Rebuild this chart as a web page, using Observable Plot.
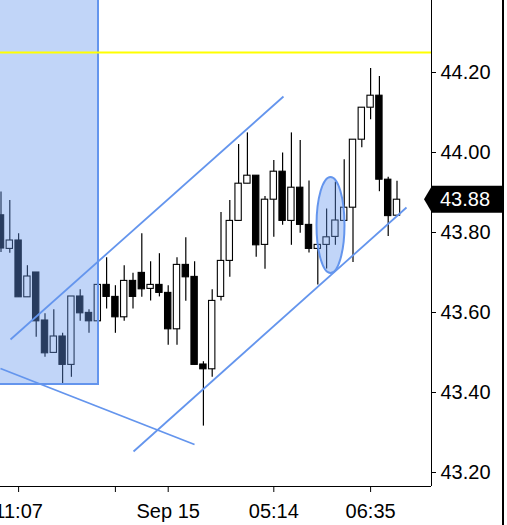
<!DOCTYPE html>
<html><head><meta charset="utf-8">
<script src="https://cdn.jsdelivr.net/npm/d3@7"></script>
<script src="https://cdn.jsdelivr.net/npm/@observablehq/plot@0.6"></script>
<style>
html,body{margin:0;padding:0;background:#fff;}
#wrap{position:relative;width:507px;height:525px;overflow:hidden;}
#wrap svg{position:absolute;left:0;top:0;}
#edge{position:absolute;left:502px;top:0;width:2px;height:525px;background:#000;z-index:2;}
</style></head><body><div id="wrap"><div id="edge"></div></div>
<script>
// ---- data ----
const opens  = [43.843,43.759,43.780,43.638,43.700,43.580,43.499,43.540,43.469,43.640,43.599,43.578,43.669,43.639,43.588,43.679,43.699,43.659,43.669,43.649,43.558,43.719,43.689,43.470,43.458,43.639,43.729,43.829,43.922,43.942,43.769,43.882,43.952,43.829,43.912,43.819,43.759,43.769,43.789,43.829,43.862,44.032,44.112,44.142,43.932,43.842];
const highs  = [43.901,43.880,43.797,43.717,43.700,43.597,43.607,43.548,43.640,43.657,43.607,43.669,43.737,43.667,43.717,43.698,43.797,43.727,43.747,43.667,43.737,43.787,43.727,43.477,43.657,43.850,43.880,44.020,44.049,43.942,43.890,43.980,43.999,44.049,44.030,43.929,43.769,43.859,43.926,43.982,44.032,44.112,44.210,44.190,43.938,43.928];
const lows   = [43.750,43.748,43.638,43.638,43.538,43.488,43.499,43.420,43.438,43.578,43.548,43.578,43.609,43.548,43.578,43.609,43.638,43.629,43.639,43.518,43.518,43.628,43.469,43.316,43.438,43.629,43.688,43.829,43.922,43.738,43.708,43.788,43.818,43.768,43.798,43.749,43.669,43.709,43.768,43.829,43.725,44.012,44.082,43.902,43.790,43.842];
const closes = [43.760,43.780,43.638,43.690,43.578,43.498,43.540,43.469,43.640,43.598,43.578,43.669,43.639,43.588,43.679,43.639,43.658,43.669,43.649,43.558,43.719,43.688,43.469,43.458,43.629,43.729,43.829,43.922,43.942,43.768,43.882,43.952,43.829,43.912,43.819,43.759,43.769,43.788,43.830,43.862,44.032,44.112,44.142,43.932,43.841,43.882];

const xTickIndex  = [2, 13, 19, 31, 42];
const xTickLabels = ["11:07", "", "Sep 15", "05:14", "06:35"];
const yTicks = [43.2, 43.4, 43.6, 43.8, 44.0, 44.2];

const resistanceLevel = [44.25];
// trend lines: start/end index and price
const trendStartIdx = [1.08, 15.06, -0.06];
const trendStartPx  = [43.5325, 43.2525, 43.46];
const trendEndIdx   = [32.1, 46.08, 21.99];
const trendEndPx    = [44.14, 43.8625, 43.27];
// highlighted zone
const zoneIdx = [-2, 11.08];
const zonePx  = [43.42, 44.6];
// ellipse annotation: center index, center price, half-width (index), half-height (price)
const ellipseAnn = [37.5, 43.8175, 1.59, 0.12];

const lastPrice = closes[closes.length - 1];

// ---- build tables ----
const candles = opens.map((o, i) => ({i, o, h: highs[i], l: lows[i], c: closes[i], up: closes[i] >= o}));
const trends = trendStartIdx.map((v, k) => ({x1: v, y1: trendStartPx[k], x2: trendEndIdx[k], y2: trendEndPx[k]}));
const zone = [{x1: zoneIdx[0], x2: zoneIdx[1], y1: zonePx[0], y2: zonePx[1]}];
const half = 0.36;
const blue = "#6495ED";

const ellipseMark = (index, scales, values, dimensions) => {
  const [ci, cp, di, dp] = ellipseAnn;
  const cx = scales.x(ci), cy = scales.y(cp);
  const rx = Math.abs(scales.x(ci + di) - cx), ry = Math.abs(scales.y(cp + dp) - cy);
  const g = d3.create("svg:g");
  g.append("ellipse").attr("cx", cx).attr("cy", cy).attr("rx", rx).attr("ry", ry)
    .attr("fill", blue).attr("fill-opacity", 0.4).attr("stroke", blue).attr("stroke-width", 2);
  return g.node();
};

const priceTag = (index, scales, values, dimensions) => {
  const y = scales.y(lastPrice);
  const x0 = dimensions.width - dimensions.marginRight;
  const g = d3.create("svg:g");
  g.append("path")
    .attr("d", `M${x0 - 7},${y} L${x0 + 1},${y - 13.5} H${x0 + 72} V${y + 13.5} H${x0 + 1} Z`)
    .attr("fill", "#000");
  g.append("text").attr("x", x0 + 9).attr("y", y).attr("dy", "0.35em")
    .attr("text-anchor", "start")
    .attr("fill", "#fff").text(lastPrice.toFixed(2));
  return g.node();
};

const chart = Plot.plot({
  width: 507,
  height: 525,
  marginLeft: 0,
  marginRight: 76,
  marginTop: 0,
  marginBottom: 39,
  style: {fontFamily: "'Liberation Sans', Arial, sans-serif", fontSize: "20px", color: "#000", background: "#fff", overflow: "visible"},
  x: {type: "linear", domain: [-0.057, 48.92], ticks: xTickIndex, tickFormat: d => xTickLabels[xTickIndex.indexOf(d)] ?? "", tickSize: 6, tickPadding: 11, label: null},
  y: {domain: [43.165, 44.38], axis: "right", ticks: yTicks, tickFormat: d => d.toFixed(2), tickSize: 4, tickPadding: 5, label: null},
  marks: [
    Plot.ruleX(candles, {x: "i", y1: "l", y2: "h", stroke: "#000", strokeWidth: 1.2, clip: true}),
    Plot.rect(candles, {x1: d => d.i - half, x2: d => d.i + half, y1: "o", y2: "c", fill: d => d.up ? "#fff" : "#000", stroke: "#000", strokeWidth: 1.1, clip: true}),
    Plot.rect(zone, {x1: "x1", x2: "x2", y1: "y1", y2: "y2", fill: blue, fillOpacity: 0.4, stroke: blue, strokeWidth: 2, clip: true}),
    Plot.ruleY(resistanceLevel, {stroke: "#ffff00", strokeWidth: 2}),
    Plot.link(trends, {x1: "x1", y1: "y1", x2: "x2", y2: "y2", stroke: blue, strokeWidth: 1.8, clip: true}),
    ellipseMark,
    Plot.ruleX([48.92], {stroke: "#000", strokeWidth: 1}),
    Plot.ruleY([43.165], {stroke: "#000", strokeWidth: 1}),
    priceTag
  ]
});
document.getElementById("wrap").appendChild(chart);
</script>
</body></html>
